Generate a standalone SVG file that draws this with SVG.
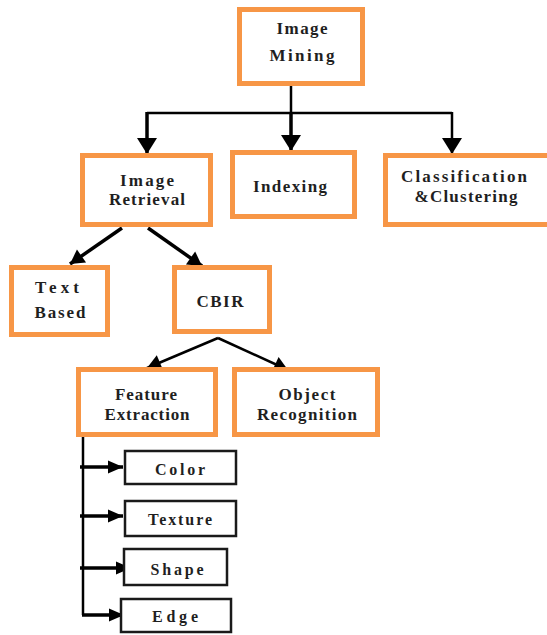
<svg xmlns="http://www.w3.org/2000/svg" width="547" height="635" viewBox="0 0 547 635">
<defs>
<style>
.ob{fill:#fff;stroke:#F79646;stroke-width:5}
.bb{fill:#fff;stroke:#1a1a1a;stroke-width:2.5}
.t{font-family:"Liberation Serif","Times New Roman",serif;font-weight:bold;font-size:17px;fill:#1f1f1f;text-anchor:middle}
.s{font-size:16px}
.ln{fill:none;stroke:#000;stroke-width:2.5}
.th{fill:none;stroke:#000;stroke-width:3.5}
</style>
<marker id="ab" markerUnits="userSpaceOnUse" markerWidth="16" markerHeight="20" viewBox="0 0 16 20" refX="16" refY="10" orient="auto" overflow="visible">
<path d="M0,0 L16,10 L0,20 z" fill="#000"/>
</marker>
<marker id="am" markerUnits="userSpaceOnUse" markerWidth="14" markerHeight="16" viewBox="0 0 14 16" refX="14" refY="8" orient="auto" overflow="visible">
<path d="M0,0 L14,8 L0,16 z" fill="#000"/>
</marker>
<marker id="as" markerUnits="userSpaceOnUse" markerWidth="15" markerHeight="13" viewBox="0 0 15 13" refX="15" refY="6.5" orient="auto" overflow="visible">
<path d="M0,0 L15,6.5 L0,13 z" fill="#000"/>
</marker>
</defs>

<g id="connectors">
<path class="ln" d="M291,86 V113"/>
<path class="ln" d="M147,113 H452"/>
<path class="th" d="M147,112 V154" marker-end="url(#ab)"/>
<path class="th" d="M291,113 V151" marker-end="url(#ab)"/>
<path class="ln" d="M452,112 V154" marker-end="url(#ab)"/>
<path class="th" d="M122,228 L70,264" marker-end="url(#am)"/>
<path class="th" d="M148,228 L202,266" marker-end="url(#am)"/>
<path class="ln" d="M218,338 L147,368" marker-end="url(#am)"/>
<path class="ln" d="M218,338 L288,370" marker-end="url(#am)"/>
<path class="ln" d="M83,437 V615"/>
<path class="th" d="M80,467 H123" marker-end="url(#as)"/>
<path class="th" d="M80,516 H123" marker-end="url(#as)"/>
<path class="th" d="M80,568 H131" marker-end="url(#as)"/>
<path class="th" d="M82,615 H124" marker-end="url(#as)"/>
</g>

<g id="image-mining">
<rect class="ob" x="239.5" y="9.5" width="123" height="74"/>
<text class="t" x="302" y="34" textLength="51">Image</text>
<text class="t" x="302" y="61" textLength="65">Mining</text>
</g>

<g id="image-retrieval">
<rect class="ob" x="82.5" y="155.5" width="128" height="69"/>
<text class="t" x="147" y="186" textLength="54">Image</text>
<text class="t" x="147" y="205" textLength="76">Retrieval</text>
</g>

<g id="indexing">
<rect class="ob" x="232.5" y="152.5" width="122" height="64"/>
<text class="t" x="290" y="192" textLength="74">Indexing</text>
</g>

<g id="classification">
<rect class="ob" x="385.5" y="155.5" width="166" height="69"/>
<text class="t" x="464" y="182" textLength="126">Classification</text>
<text class="t" x="466" y="202" textLength="103">&amp;Clustering</text>
</g>

<g id="text-based">
<rect class="ob" x="11.5" y="267.5" width="96" height="67"/>
<text class="t" x="57" y="293" textLength="44">Text</text>
<text class="t" x="60" y="318" textLength="51">Based</text>
</g>

<g id="cbir">
<rect class="ob" x="174.5" y="267.5" width="95" height="64"/>
<text class="t" x="220" y="307" textLength="47">CBIR</text>
</g>

<g id="feature-extraction">
<rect class="ob" x="78.5" y="369.5" width="137" height="65"/>
<text class="t" x="146" y="400" textLength="62">Feature</text>
<text class="t" x="147" y="420" textLength="85">Extraction</text>
</g>

<g id="object-recognition">
<rect class="ob" x="234.5" y="369.5" width="143" height="65"/>
<text class="t" x="307" y="400" textLength="57">Object</text>
<text class="t" x="307" y="420" textLength="100">Recognition</text>
</g>

<g id="color">
<rect class="bb" x="125" y="451" width="111" height="33"/>
<text class="t s" x="180" y="475" textLength="50">Color</text>
</g>

<g id="texture">
<rect class="bb" x="125" y="501" width="111" height="35"/>
<text class="t s" x="180" y="525" textLength="64">Texture</text>
</g>

<g id="shape">
<rect class="bb" x="124" y="549" width="103" height="36"/>
<text class="t s" x="177" y="575" textLength="53">Shape</text>
</g>

<g id="edge">
<rect class="bb" x="121" y="599" width="110" height="33"/>
<text class="t s" x="175" y="622" textLength="46">Edge</text>
</g>
</svg>
